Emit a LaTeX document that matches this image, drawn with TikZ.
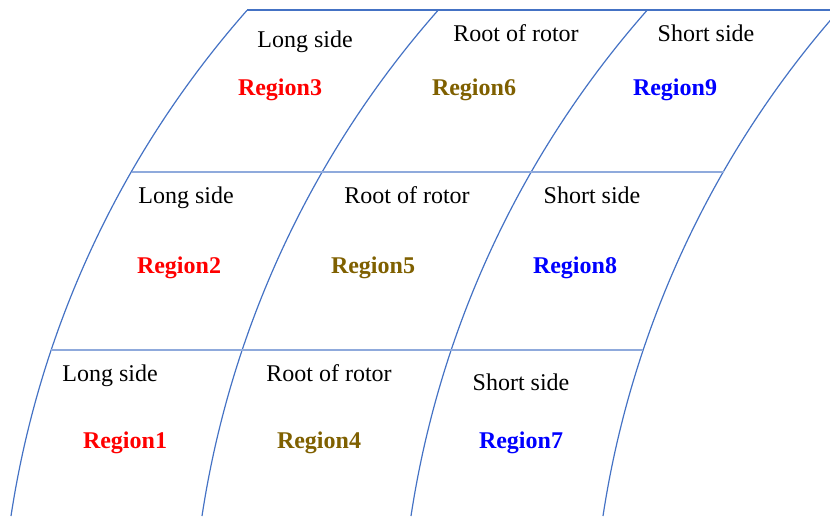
\documentclass[tikz,border=0pt]{standalone}
\usepackage{fontspec}
\setmainfont{Liberation Serif}
\usepackage{xcolor}
\usetikzlibrary{positioning}
\definecolor{bladeblue}{HTML}{4472C4}
\definecolor{gridblue}{HTML}{8FAADC}
\definecolor{regionred}{HTML}{FF0000}
\definecolor{regiongold}{HTML}{7F6000}
\definecolor{regionblue}{HTML}{0000FF}

\begin{document}
\begin{tikzpicture}[x=0.5pt, y=0.5pt,
    sidelabel/.style={font=\fontsize{12}{14}\selectfont, inner sep=0pt, anchor=base},
    regionlabel/.style={font=\fontsize{12}{14}\selectfont\bfseries, inner sep=0pt, anchor=base}]
  \useasboundingbox (0,0) rectangle (830,516);
  \clip (0,0) rectangle (830,516);
  % blade outlines: one arc, shifted sideways
  \foreach \dx in {0,191,400,592}
    \draw[bladeblue, line width=0.6pt] (11+\dx,0) arc[start angle=171.35, end angle=138.6, radius=990];
  \draw[bladeblue, line width=0.6pt] (247,506) -- (830,506);
  \draw[gridblue, line width=0.8pt] (131.5,344) -- (723.5,344);
  \draw[gridblue, line width=0.8pt] (51.4,166) -- (643.4,166);
  % top row
  \node[sidelabel] (long3) at (305,469) {Long side};
  \node[regionlabel, text=regionred] (reg3) at (280,421) {Region3};
  \node[sidelabel] (root6) at (516,475) {Root of rotor};
  \node[regionlabel, text=regiongold] (reg6) at (474,421) {Region6};
  \node[sidelabel] (short9) at (706,475) {Short side};
  \node[regionlabel, text=regionblue] (reg9) at (675,421) {Region9};
  % middle row
  \node[sidelabel] (long2) at (186,313) {Long side};
  \node[regionlabel, text=regionred] (reg2) at (179,243) {Region2};
  \node[sidelabel] (root5) at (407,313) {Root of rotor};
  \node[regionlabel, text=regiongold] (reg5) at (373,243) {Region5};
  \node[sidelabel] (short8) at (592,313) {Short side};
  \node[regionlabel, text=regionblue] (reg8) at (575,243) {Region8};
  % bottom row
  \node[sidelabel] (long1) at (110,135) {Long side};
  \node[regionlabel, text=regionred] (reg1) at (125,68) {Region1};
  \node[sidelabel] (root4) at (329,135) {Root of rotor};
  \node[regionlabel, text=regiongold] (reg4) at (319,68) {Region4};
  \node[sidelabel] (short7) at (521,126) {Short side};
  \node[regionlabel, text=regionblue] (reg7) at (521,68) {Region7};
\end{tikzpicture}
\end{document}
